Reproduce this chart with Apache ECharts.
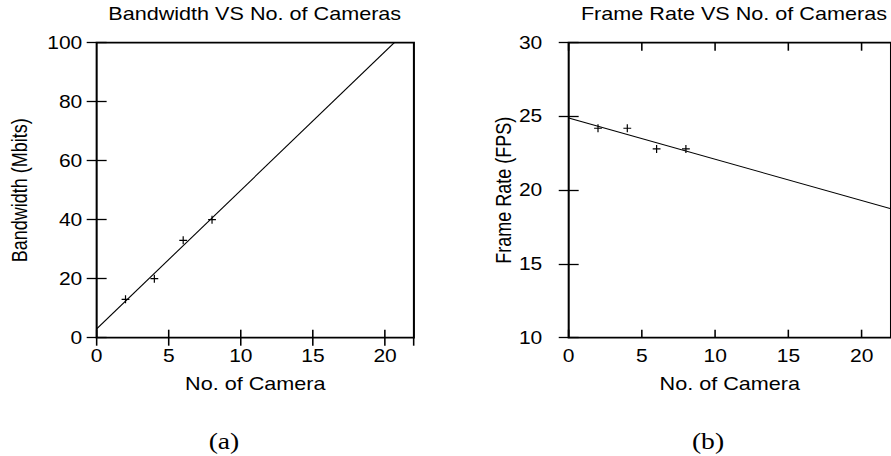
<!DOCTYPE html>
<html>
<head>
<meta charset="utf-8">
<script src="https://cdn.jsdelivr.net/npm/echarts@6/dist/echarts.min.js"></script>
<style>
html,body{margin:0;padding:0;background:#fff;overflow:hidden;}
#wrap{width:891px;height:456px;overflow:hidden;position:relative;}
#c{width:742px;height:456px;transform:scaleX(1.20081);transform-origin:0 0;}
</style>
</head>
<body>
<div id="wrap"><div id="c"></div></div>
<script>
// ---- data ----
var titles = ['Bandwidth VS No. of Cameras', 'Frame Rate VS No. of Cameras'];
var panelLabels = ['(a)', '(b)'];
var xName = 'No. of Camera';
var yNames = ['Bandwidth (Mbits)', 'Frame Rate (FPS)'];

var cameras = [2, 4, 6, 8];
var bandwidth = [13, 20, 33, 40];
var frameRate = [24.2, 24.2, 22.8, 22.8];

// fitted trend lines (end points)
var bwFitX = [0, 20.64];
var bwFitY = [3, 100];
var frFitX = [0, 22];
var frFitY = [24.9, 18.74];

var xRange = [0, 22];
var xStep = 5;
var bwRange = [0, 100];
var bwStep = 20;
var frRange = [10, 30];
var frStep = 5;

// ---- chart ----
var FONT = '"Liberation Sans", Arial, Helvetica, sans-serif';
var SERIF = '"Liberation Serif", "Times New Roman", serif';
var plus = 'path://M0,5L10,5M5,0L5,10';

function pairs(xs, ys) { return xs.map(function (x, i) { return [x, ys[i]]; }); }

var grids = [
  { left: 80.5, top: 42.7, width: 264.2, height: 295, show: true, borderColor: '#000', borderWidth: 1.7, backgroundColor: 'transparent' },
  { left: 473.6, top: 42.7, width: 274.8, height: 295, show: true, borderColor: '#000', borderWidth: 1.7, backgroundColor: 'transparent' }
];

function xAxisFor(gi, main) {
  return {
    type: 'value', gridIndex: gi, position: main ? 'bottom' : 'top',
    min: xRange[0], max: xRange[1], interval: xStep,
    name: main ? xName : '', nameLocation: 'middle', nameGap: 37,
    nameTextStyle: { fontFamily: FONT, fontSize: 18, color: '#000' },
    axisLine: { show: false },
    axisTick: { show: true, inside: true, length: 8, lineStyle: { color: '#000', width: 1.3 } },
    axisLabel: { show: main, showMaxLabel: false, margin: 9, fontFamily: FONT, fontSize: 17.5, color: '#000' },
    splitLine: { show: false }
  };
}
function yAxisFor(gi, main, range, step, name, gap, margin) {
  return {
    type: 'value', gridIndex: gi, position: main ? 'left' : 'right',
    min: range[0], max: range[1], interval: step,
    name: main ? name : '', nameLocation: 'middle', nameGap: gap,
    nameTextStyle: { fontFamily: FONT, fontSize: 18, color: '#000' },
    axisLine: { show: false },
    axisTick: { show: true, inside: true, length: 8.3, lineStyle: { color: '#000', width: 1.3 } },
    axisLabel: { show: main, margin: margin, fontFamily: FONT, fontSize: 17.5, color: '#000' },
    splitLine: { show: false }
  };
}

var option = {
  animation: false,
  backgroundColor: '#fff',
  grid: grids,
  xAxis: [xAxisFor(0, true), xAxisFor(0, false), xAxisFor(1, true), xAxisFor(1, false)],
  yAxis: [
    yAxisFor(0, true, bwRange, bwStep, yNames[0], 55.5, 12),
    yAxisFor(0, false, bwRange, bwStep, '', 0, 0),
    yAxisFor(1, true, frRange, frStep, yNames[1], 44, 22),
    yAxisFor(1, false, frRange, frStep, '', 0, 0)
  ],
  graphic: [
    { type: 'text', x: 212.1, y: 13.7, style: { text: titles[0], font: '18px ' + FONT, fill: '#000', align: 'center', verticalAlign: 'middle' } },
    { type: 'text', x: 611.2, y: 13.7, style: { text: titles[1], font: '18px ' + FONT, fill: '#000', align: 'center', verticalAlign: 'middle' } },
    { type: 'text', x: 186.5, y: 440.5, style: { text: panelLabels[0], font: '23px ' + SERIF, fill: '#000', align: 'center', verticalAlign: 'middle' } },
    { type: 'text', x: 589.6, y: 440.5, style: { text: panelLabels[1], font: '23px ' + SERIF, fill: '#000', align: 'center', verticalAlign: 'middle' } }
  ],
  series: [
    { type: 'line', xAxisIndex: 0, yAxisIndex: 0, data: pairs(bwFitX, bwFitY), showSymbol: false, clip: true,
      lineStyle: { color: '#000', width: 1 }, silent: true },
    { type: 'scatter', xAxisIndex: 0, yAxisIndex: 0, data: pairs(cameras, bandwidth), symbol: plus, symbolSize: [6.5, 8],
      itemStyle: { color: 'rgba(0,0,0,0)', borderColor: '#000', borderWidth: 1.1, opacity: 1 } },
    { type: 'line', xAxisIndex: 2, yAxisIndex: 2, data: pairs(frFitX, frFitY), showSymbol: false, clip: true,
      lineStyle: { color: '#000', width: 1 }, silent: true },
    { type: 'scatter', xAxisIndex: 2, yAxisIndex: 2, data: pairs(cameras, frameRate), symbol: plus, symbolSize: [6.5, 8],
      itemStyle: { color: 'rgba(0,0,0,0)', borderColor: '#000', borderWidth: 1.1, opacity: 1 } }
  ]
};

var chart = echarts.init(document.getElementById('c'), null, { renderer: 'svg', width: 742, height: 456 });
chart.setOption(option);
</script>
</body>
</html>
